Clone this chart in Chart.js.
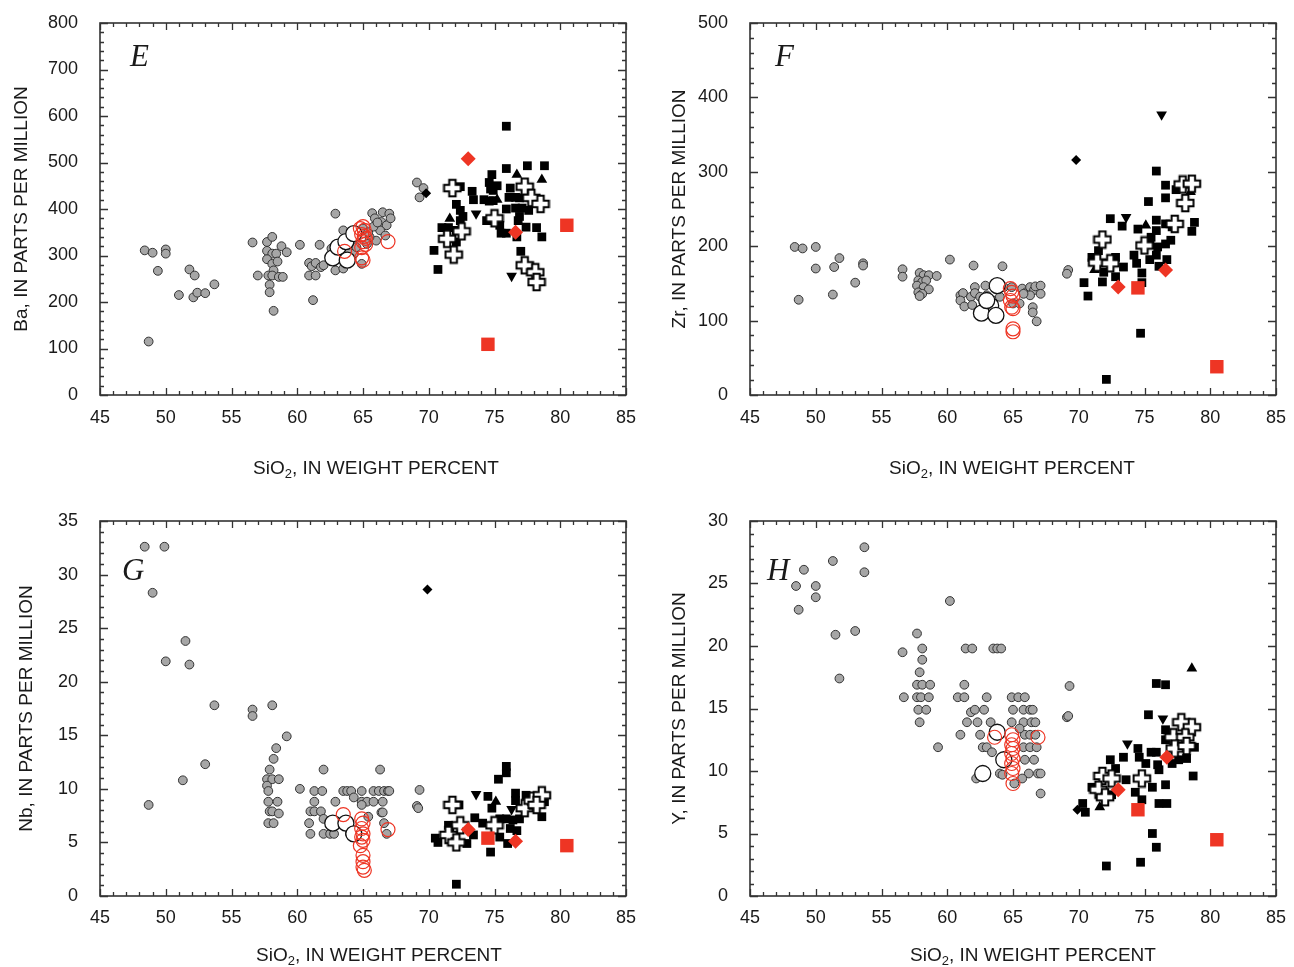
<!DOCTYPE html>
<html><head><meta charset="utf-8">
<script src="https://cdn.jsdelivr.net/npm/chart.js@4"></script>
<style>
body{margin:0;background:#fff;width:1294px;height:967px;position:relative;overflow:hidden}
canvas{position:absolute}
</style></head>
<body>
<canvas id="cE" width="647" height="483" style="left:0;top:0"></canvas>
<canvas id="cF" width="647" height="483" style="left:647px;top:0"></canvas>
<canvas id="cG" width="647" height="484" style="left:0;top:483px"></canvas>
<canvas id="cH" width="647" height="484" style="left:647px;top:483px"></canvas>
<script>
// ---------- tick labels ----------
const xTicks = [45,50,55,60,65,70,75,80,85];
const baTicks = [0,100,200,300,400,500,600,700,800];
const zrTicks = [0,100,200,300,400,500];
const nbTicks = [0,5,10,15,20,25,30,35];
const yTicksH = [0,5,10,15,20,25,30];

// ---------- Panel E: Ba ----------
const eGray = [[48.4,311],[49.0,306],[50.0,313],[50.0,304],[49.4,267],[51.8,270],[52.2,257],[51.0,215],[52.1,210],[52.4,220],[53.0,219],[53.7,238],[48.7,115],
[56.6,328],[57.7,329],[58.1,340],[58.8,320],[59.2,307],[57.7,310],[58.1,304],[58.4,304],[57.7,292],[58.1,282],[58.5,287],[58.2,268],[57.0,257],[57.8,257],[58.1,257],[58.6,254],[58.9,254],[57.9,237],[57.9,221],[58.2,181],
[60.2,323],[61.7,323],[61.2,204],[60.9,284],[61.1,277],[61.4,284],[61.8,275],[60.9,257],[61.4,257],[62.9,390],
[65.7,391],[66.5,393],[67.0,390],[65.9,380],[66.4,372],[66.8,365],[67.1,380],[66.3,354],[66.7,343],[66.0,332],[65.5,340],[65.3,325],[64.9,282],
[62.6,315],[62.7,297],[62.9,268],[63.5,272],[64.3,304],[64.5,318],[64.0,332],[63.5,354],[62.0,279],[63.3,294],[63.8,311],[64.6,350],[65.0,358],[65.4,350],[65.8,362],[66.1,371],
[69.1,457],[69.6,445],[69.3,425]];
const eOpen = [[62.7,295],[63.1,318],[63.7,330],[63.8,290],[64.3,347]];
const eRed = [[65.0,362],[65.1,354],[64.9,345],[65.2,337],[65.0,330],[65.2,324],[64.9,317],[65.1,341],[64.8,358],[63.6,309],[64.9,295],[65.0,290],[66.9,330]];
const eDia = [[69.8,434]];
const eSq = [[75.9,578],[77.5,493],[78.8,493],[75.9,487],[74.8,474],[74.6,457],[75.2,450],[74.7,443],[74.9,440],[73.3,438],[73.4,420],[74.2,420],[74.6,417],[74.9,418],[76.2,445],[76.1,425],[76.6,425],[76.9,424],[75.9,400],[76.6,402],[77.1,402],[77.6,397],[76.9,384],[76.8,375],[77.4,361],[78.2,360],[78.6,340],[75.4,365],[75.5,348],[75.9,348],[76.7,340],[77.0,309],[72.1,410],[72.4,397],[72.6,384],[72.4,375],[71.0,360],[71.5,360],[72.1,354],[72.1,329],[70.4,311],[70.7,270],[72.4,448],[74.4,375]];
const eTriUp = [[76.7,474],[78.6,463],[71.6,379],[75.2,420]];
const eTriDn = [[73.6,390],[76.3,256]];
const ePlus = [[71.8,445],[72.5,352],[71.4,336],[71.9,302],[75.0,380],[77.3,448],[77.8,424],[78.5,411],[77.3,279],[78.1,264],[78.2,243]];
const eRedDia = [[73.0,508],[76.6,350]];
const eRedSq = [[80.5,365],[74.5,109]];

// ---------- Panel F: Zr ----------
const fGray = [[48.4,199],[49.0,197],[50.0,199],[48.7,128],[50.0,170],[51.4,172],[51.8,184],[51.3,135],[53.0,151],[53.6,177],[53.6,174],[56.6,169],[56.6,159],
[57.9,164],[58.2,161],[58.6,161],[57.8,154],[58.1,152],[58.4,154],[57.7,147],[58.2,145],[58.6,142],[57.8,138],[58.1,136],[57.9,133],
[59.2,160],[60.2,182],[62.0,174],[64.2,173],
[61.0,134],[61.2,137],[61.0,127],[61.3,119],[61.8,132],[62.1,145],[62.1,137],[61.9,121],[62.5,132],[62.9,147],[63.0,134],[63.5,127],[64.0,132],[64.3,145],[64.9,145],[65.0,123],[65.5,123],[65.7,143],[66.0,138],[66.3,145],[66.6,141],[66.7,146],[67.1,147],[67.1,136],[66.3,134],[66.5,118],[66.5,111],[66.8,99],[65.8,136],
[69.2,168],[69.1,163]];
const fOpen = [[63.8,147],[63.3,120],[62.6,110],[63.7,107],[63.0,127]];
const fRed = [[64.9,138],[65.0,133],[64.8,127],[64.9,118],[65.0,116],[65.0,89],[65.0,85],[64.8,143]];
const fDia = [[69.8,316]];
const fSq = [[75.9,301],[76.6,282],[77.4,276],[76.6,265],[75.3,260],[72.4,237],[73.3,227],[74.5,223],[75.9,235],[75.9,221],[76.6,230],[77.1,226],[78.8,232],[78.6,220],[75.5,212],[75.4,202],[76.0,199],[76.6,203],[77.0,208],[75.9,188],[75.4,182],[76.7,182],[76.1,173],[74.2,188],[74.4,177],[74.8,164],[74.8,151],[73.4,172],[72.8,185],[72.8,159],[71.8,152],[70.4,151],[70.7,133],[71.0,185],[71.5,194],[71.9,165],[74.7,83],[72.1,21]];
const fTriUp = [[75.1,228],[78.5,273],[71.2,168]];
const fTriDn = [[76.3,377],[73.6,239]];
const fPlus = [[77.9,283],[78.6,284],[78.1,258],[77.3,230],[75.0,201],[71.8,209],[71.4,178],[72.4,177]];
const fRedDia = [[73.0,145],[76.6,168]];
const fRedSq = [[74.5,144],[80.5,38]];

// ---------- Panel G: Nb ----------
const gGray = [[48.4,32.6],[49.9,32.6],[49.0,28.3],[51.5,23.8],[50.0,21.9],[51.8,21.6],[53.7,17.8],[56.6,17.4],[56.6,16.8],[58.1,17.8],[59.2,14.9],[58.4,13.8],[58.2,12.8],[57.9,11.8],[57.7,10.9],[58.1,10.9],[58.6,10.9],[57.7,10.3],[57.8,9.8],[57.8,8.8],[58.5,8.8],[57.9,7.9],[58.1,7.9],[58.6,7.7],[57.8,6.8],[58.2,6.8],[53.0,12.3],[51.3,10.8],[48.7,8.5],
[60.2,10.0],[62.0,11.8],[61.3,9.8],[61.9,9.8],[61.3,8.8],[62.9,8.8],[61.0,7.9],[61.3,7.9],[61.8,7.9],[60.9,6.8],[61.0,5.8],[62.0,5.8],[62.5,5.8],[62.8,5.8],[62.0,7.2],
[63.5,9.8],[63.8,9.8],[64.1,9.8],[64.9,9.8],[64.3,9.2],[64.9,8.8],[65.3,8.8],[65.8,8.8],[66.5,8.8],[65.8,9.8],[66.2,9.8],[66.6,9.8],[66.9,9.8],[67.0,9.8],[66.3,11.8],[66.4,7.8],[66.5,7.8],[66.6,6.8],[66.8,5.8],[65.4,7.4],[64.9,8.5],[64.0,5.8],[64.3,5.8],
[69.3,9.9],[69.1,8.4],[69.2,8.2]];
const gOpen = [[62.7,6.8],[63.7,6.8],[64.3,5.8]];
const gRed = [[63.5,7.6],[64.9,7.2],[65.0,6.8],[64.9,6.3],[65.0,5.8],[64.9,5.5],[65.0,5.2],[64.8,4.7],[65.0,3.8],[65.0,3.2],[65.0,2.7],[65.1,2.4],[66.9,6.2]];
const gDia = [[69.9,28.6]];
const gSq = [[75.9,12.1],[75.9,11.5],[75.3,10.9],[74.5,9.3],[76.6,9.6],[76.6,8.9],[77.4,9.4],[78.8,8.8],[78.6,7.4],[76.9,7.2],[76.4,7.1],[75.9,7.2],[75.4,7.2],[75.2,6.9],[76.2,6.3],[76.7,6.1],[75.4,5.5],[76.0,4.9],[74.7,4.1],[74.1,6.8],[73.5,7.3],[74.8,8.2],[72.3,8.5],[71.5,6.6],[71.6,6.1],[70.5,5.4],[70.7,5.0],[72.9,4.9],[73.4,5.7],[72.1,1.1]];
const gTriUp = [[75.1,8.8]];
const gTriDn = [[73.6,9.5],[76.3,8.1]];
const gPlus = [[71.8,8.5],[72.4,6.6],[71.5,5.7],[72.1,5.0],[75.0,6.6],[77.3,8.2],[77.9,8.9],[78.6,9.4],[78.2,8.5]];
const gRedDia = [[73.0,6.2],[76.6,5.1]];
const gRedSq = [[74.5,5.4],[80.5,4.7]];

// ---------- Panel H: Y ----------
const hGray = [[49.1,26.1],[51.3,26.8],[53.7,27.9],[53.7,25.9],[48.5,24.8],[50.0,24.8],[50.0,23.9],[48.7,22.9],[51.5,20.9],[53.0,21.2],[51.8,17.4],[60.2,23.6],
[57.7,21.0],[58.1,19.8],[58.1,18.9],[57.9,17.9],[56.6,19.5],[57.7,16.9],[58.1,16.9],[58.7,16.9],[56.7,15.9],[57.7,15.9],[58.0,15.9],[58.6,15.9],[57.8,14.9],[58.4,14.9],[57.9,13.9],[59.3,11.9],
[61.4,19.8],[61.9,19.8],[63.5,19.8],[63.8,19.8],[64.1,19.8],[61.3,16.9],[60.8,15.9],[61.3,15.9],[63.0,15.9],[64.9,15.9],[65.4,15.9],[65.9,15.9],[61.8,14.7],[62.1,14.9],[62.8,14.9],[61.5,13.9],[62.3,13.9],[63.3,13.9],[65.0,14.9],[65.8,14.9],[66.3,14.9],[66.5,14.9],[64.9,13.9],[65.8,13.9],[66.4,13.9],[66.7,13.9],[61.0,12.9],[62.5,12.9],[65.9,12.9],[66.3,12.9],[66.7,12.9],[62.7,11.9],[63.0,11.9],[63.4,11.5],[65.8,11.9],[66.3,11.9],[66.8,11.9],[65.9,10.9],[66.6,10.9],[64.0,9.8],[64.2,9.7],[66.2,9.8],[66.9,9.8],[67.1,9.8],[65.7,9.4],[65.1,9.0],[62.2,9.4],[67.1,8.2],[65.5,13.4],
[69.3,16.8],[69.1,14.3],[69.2,14.4]];
const hOpen = [[63.8,13.1],[64.3,10.9],[62.7,9.8]];
const hRed = [[63.6,12.7],[64.9,12.9],[65.0,12.5],[64.9,12.1],[65.0,11.8],[64.9,11.4],[65.0,11.0],[64.9,10.6],[65.0,10.2],[64.9,9.8],[65.0,9.0],[66.9,12.7]];
const hDia = [[69.9,6.9]];
const hSq = [[75.9,17.0],[76.6,16.9],[75.3,14.5],[76.6,13.3],[76.6,12.5],[78.8,11.9],[78.2,11.0],[77.6,10.9],[77.1,10.6],[74.5,11.8],[75.5,11.5],[75.9,11.5],[74.6,11.1],[75.1,10.6],[76.0,10.5],[76.1,10.1],[73.4,11.1],[72.4,10.9],[72.8,10.2],[73.6,9.3],[78.7,9.6],[76.6,8.9],[75.6,8.7],[74.3,8.3],[74.8,7.7],[76.1,7.4],[76.7,7.4],[71.0,8.7],[72.5,8.1],[70.3,7.4],[70.5,6.7],[75.6,5.0],[75.9,3.9],[72.1,2.4],[74.7,2.7]];
const hTriUp = [[78.6,18.2],[71.6,7.1]];
const hTriDn = [[76.4,14.2],[73.7,12.2]];
const hPlus = [[77.8,13.9],[78.6,13.5],[77.2,12.7],[78.1,12.7],[77.3,11.8],[78.2,12.0],[74.8,9.4],[71.8,9.6],[72.5,9.4],[71.5,8.5],[72.0,7.9]];
const hRedDia = [[73.0,8.5],[76.7,11.1]];
const hRedSq = [[74.5,6.9],[80.5,4.5]];

// ---------- styling ----------
const SANS = '"Liberation Sans",Arial,sans-serif';
const RED = '#ee3524';
const TXT = '#1a1a1a';
const TICK_SIZE = 18, TITLE_SIZE = 19;

function plusImage(){
  const c = document.createElement('canvas'); c.width = 20; c.height = 20;
  const g = c.getContext('2d');
  const a = 3.2, b = 8.3, cx = 10, cy = 10;
  const v = [[-a,-b],[a,-b],[a,-a],[b,-a],[b,a],[a,a],[a,b],[-a,b],[-a,a],[-b,a],[-b,-a],[-a,-a]];
  g.beginPath(); v.forEach((p,i)=> i ? g.lineTo(cx+p[0],cy+p[1]) : g.moveTo(cx+p[0],cy+p[1])); g.closePath();
  g.fillStyle = '#fff'; g.fill(); g.lineWidth = 2; g.strokeStyle = '#000'; g.lineJoin='miter'; g.stroke();
  return c;
}
const PLUS = plusImage();
const pts = a => a.map(p => ({x:p[0], y:p[1]}));

function buildDatasets(s){
  const solid = (data, style, r, color, rot) => ({data:pts(data), pointStyle:style, pointRadius:r, pointRotation:rot||0,
      pointBackgroundColor:color, pointBorderColor:color, pointBorderWidth:0, showLine:false});
  return [
    solid(s.redSq, 'rect', 9.5, RED),
    solid(s.redDia, 'rectRot', 7.5, RED),
    {data:pts(s.plus), pointStyle:PLUS, pointRadius:9, showLine:false},
    solid(s.triUp, 'triangle', 6.2, '#000'),
    solid(s.triDn, 'triangle', 6.2, '#000', 180),
    solid(s.sq, 'rect', 6.2, '#000'),
    solid(s.dia, 'rectRot', 5, '#000'),
    {data:pts(s.red), pointStyle:'circle', pointRadius:7, pointBackgroundColor:'rgba(0,0,0,0)', pointBorderColor:RED, pointBorderWidth:1.2, showLine:false},
    {data:pts(s.open), pointStyle:'circle', pointRadius:8, pointBackgroundColor:'#fff', pointBorderColor:'#111', pointBorderWidth:1.3, showLine:false},
    {data:pts(s.gray), pointStyle:'circle', pointRadius:4.4, pointBackgroundColor:'#a6a6a6', pointBorderColor:'#333', pointBorderWidth:1, showLine:false}
  ];
}

const deco = {
  id:'deco',
  beforeDatasetsDraw(chart, args, o){
    const {ctx, chartArea:a, scales:{x, y}} = chart;
    ctx.save();
    ctx.strokeStyle = '#333'; ctx.lineWidth = 1.6;
    ctx.strokeRect(a.left, a.top, a.right - a.left, a.bottom - a.top);
    ctx.lineWidth = 1.3; ctx.beginPath();
    const isMaj = (v, m) => Math.abs(v/m - Math.round(v/m)) < 1e-6;
    for (let i = 0; ; i++){
      const v = x.min + i*o.xMinor; if (v > x.max + 1e-9) break;
      const p = Math.round(x.getPixelForValue(v)) + 0.5; const L = isMaj(v, o.xMajor) ? 7 : 4;
      ctx.moveTo(p, a.bottom); ctx.lineTo(p, a.bottom - L);
      ctx.moveTo(p, a.top); ctx.lineTo(p, a.top + L);
    }
    for (let i = 0; ; i++){
      const v = y.min + i*o.yMinor; if (v > y.max + 1e-9) break;
      const p = Math.round(y.getPixelForValue(v)) + 0.5; const L = isMaj(v, o.yMajor) ? 8 : 4;
      ctx.moveTo(a.left, p); ctx.lineTo(a.left + L, p);
      ctx.moveTo(a.right, p); ctx.lineTo(a.right - L, p);
    }
    ctx.stroke();
    // panel letter
    ctx.fillStyle = TXT; ctx.textAlign = 'left'; ctx.textBaseline = 'alphabetic';
    ctx.font = 'italic 31px "Liberation Serif","DejaVu Serif",serif';
    ctx.fillText(o.letter, a.left + o.lx, a.top + o.ly);
    // x title with subscript
    const F = TITLE_SIZE, f1 = F + 'px ' + SANS, f2 = Math.round(F*0.7) + 'px ' + SANS;
    const t1 = 'SiO', t2 = '2', t3 = ', IN WEIGHT PERCENT';
    ctx.font = f1; const w1 = ctx.measureText(t1).width, w3 = ctx.measureText(t3).width;
    ctx.font = f2; const w2 = ctx.measureText(t2).width;
    let sx = a.left + o.tx - (w1 + w2 + w3)/2; const by = a.bottom + o.ty;
    ctx.font = f1; ctx.fillText(t1, sx, by); sx += w1;
    ctx.font = f2; ctx.fillText(t2, sx, by + 4); sx += w2;
    ctx.font = f1; ctx.fillText(t3, sx, by);
    ctx.restore();
  }
};

const zeroPad = s => { s.paddingTop = 0; s.paddingBottom = 0; s.paddingLeft = 0; s.paddingRight = 0; };

function makeChart(id, series, p){
  new Chart(document.getElementById(id), {
    type:'scatter',
    data:{datasets:buildDatasets(series)},
    plugins:[deco],
    options:{
      responsive:false, animation:false, events:[],
      layout:{padding:{top:p.padTop, right:p.padRight, left:0, bottom:0}},
      plugins:{legend:{display:false}, tooltip:{enabled:false},
        deco:{xMinor:1, xMajor:5, yMinor:p.yMinor, yMajor:p.yMajor, letter:p.letter, lx:p.lx, ly:p.ly, tx:p.tx, ty:p.ty}},
      scales:{
        x:{type:'linear', min:45, max:85, grid:{display:false}, border:{display:false},
           afterBuildTicks: s => { s.ticks = xTicks.map(v => ({value:v})); },
           afterFit: s => { s.height = p.xH; zeroPad(s); },
           ticks:{padding:p.xPad, color:TXT, font:{family:SANS, size:TICK_SIZE}, maxRotation:0, autoSkip:false}},
        y:{type:'linear', min:p.yTicks[0], max:p.yTicks[p.yTicks.length-1], grid:{display:false}, border:{display:false},
           afterBuildTicks: s => { s.ticks = p.yTicks.map(v => ({value:v})); },
           afterFit: s => { s.width = p.yW; zeroPad(s); },
           ticks:{padding:14, color:TXT, font:{family:SANS, size:TICK_SIZE}, autoSkip:false},
           title:{display:true, text:p.yTitle, color:TXT, font:{family:SANS, size:TITLE_SIZE}, padding:{top:p.yTitlePad, bottom:0}}}
      }
    }
  });
}

makeChart('cE', {gray:eGray, open:eOpen, red:eRed, dia:eDia, sq:eSq, triUp:eTriUp, triDn:eTriDn, plus:ePlus, redDia:eRedDia, redSq:eRedSq},
  {padTop:23, padRight:21, yW:100, xH:88, xPad:4, yTicks:baTicks, yMinor:20, yMajor:100, letter:'E', lx:30, ly:43, tx:276, ty:79, yTitle:'Ba, IN PARTS PER MILLION', yTitlePad:10});
makeChart('cF', {gray:fGray, open:fOpen, red:fRed, dia:fDia, sq:fSq, triUp:fTriUp, triDn:fTriDn, plus:fPlus, redDia:fRedDia, redSq:fRedSq},
  {padTop:23, padRight:18, yW:103, xH:88, xPad:4, yTicks:zrTicks, yMinor:20, yMajor:100, letter:'F', lx:25, ly:43, tx:262, ty:79, yTitle:'Zr, IN PARTS PER MILLION', yTitlePad:21});
makeChart('cG', {gray:gGray, open:gOpen, red:gRed, dia:gDia, sq:gSq, triUp:gTriUp, triDn:gTriDn, plus:gPlus, redDia:gRedDia, redSq:gRedSq},
  {padTop:38, padRight:21, yW:100, xH:71, xPad:3, yTicks:nbTicks, yMinor:1, yMajor:5, letter:'G', lx:22, ly:59, tx:279, ty:65, yTitle:'Nb, IN PARTS PER MILLION', yTitlePad:15});
makeChart('cH', {gray:hGray, open:hOpen, red:hRed, dia:hDia, sq:hSq, triUp:hTriUp, triDn:hTriDn, plus:hPlus, redDia:hRedDia, redSq:hRedSq},
  {padTop:38, padRight:18, yW:103, xH:71, xPad:3, yTicks:yTicksH, yMinor:1, yMajor:5, letter:'H', lx:17, ly:59, tx:283, ty:65, yTitle:'Y, IN PARTS PER MILLION', yTitlePad:21});
</script>
</body></html>
